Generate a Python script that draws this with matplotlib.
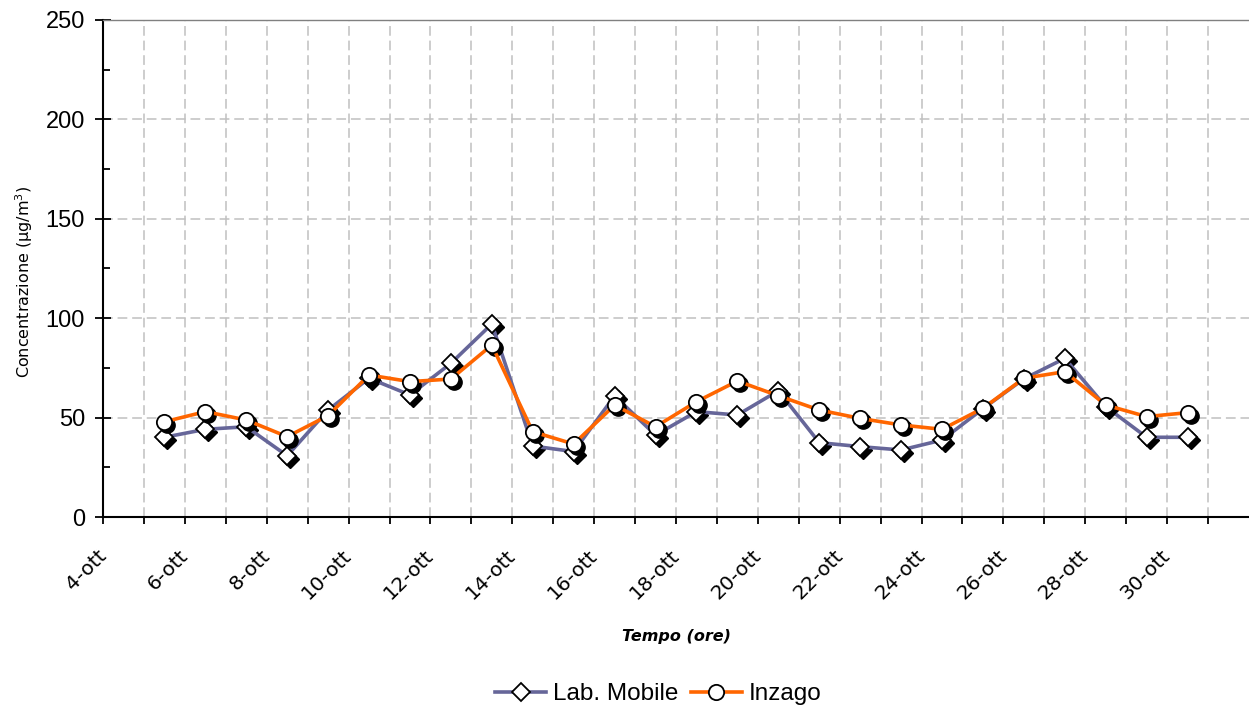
import numpy as np
import matplotlib
matplotlib.use('Agg')
import matplotlib.pyplot as plt
from matplotlib import transforms

plt.rcParams['lines.scale_dashes'] = False

# giorni di ottobre (misure a mezzogiorno)
giorni = np.arange(5, 31)
lab_mobile = [40.1, 44.1, 45.4, 30.8, 53.8, 69.8, 61.4, 77.3, 97.1, 35.7,
              32.9, 60.9, 41.2, 53.0, 51.3, 63.5, 37.4, 35.4, 33.7, 38.7,
              54.5, 69.5, 79.8, 55.5, 40.1, 40.1]
inzago = [47.9, 53.0, 48.8, 40.4, 51.0, 71.4, 68.1, 69.4, 86.5, 42.9,
          36.7, 56.3, 45.4, 58.0, 68.4, 61.0, 53.8, 49.6, 46.3, 44.1,
          54.7, 69.8, 73.1, 56.3, 50.5, 52.5]
tick_giorni = np.arange(4, 32)
tick_labels = ['%d-ott' % d if d % 2 == 0 else '' for d in tick_giorni]

W, H = 1249, 711
fig = plt.figure(figsize=(W / 100, H / 100), dpi=100)
ax = fig.add_axes([103 / W, 1 - 517 / H, 1 - 103 / W, (517 - 20) / H])

x = giorni + 0.5
ombra = transforms.offset_copy(ax.transData, fig=fig, x=3, y=-3, units='dots')

# Lab. Mobile
l1, = ax.plot(x, lab_mobile, color='#666699', lw=2.6, marker='D', ms=9,
              mfc='white', mec='black', mew=1.3, zorder=4, label='Lab. Mobile')
ax.plot(x, lab_mobile, ls='none', marker='D', ms=9, mfc='black', mec='black',
        transform=ombra, zorder=3.5)
# Inzago
l2, = ax.plot(x, inzago, color='#FF6600', lw=2.6, marker='o', ms=11,
              mfc='white', mec='black', mew=1.3, zorder=6, label='Inzago')
ax.plot(x, inzago, ls='none', marker='o', ms=11, mfc='black', mec='black',
        transform=ombra, zorder=5.5)

ax.set_xlim(4, 32)
ax.set_ylim(0, 250)

ax.set_xticks(tick_giorni)
ax.set_xticklabels(tick_labels, rotation=45, ha='right', va='top',
                   fontsize=14.5, family='DejaVu Sans')
ax.tick_params(axis='x', direction='out', length=5, width=1.3, pad=16)
offs = transforms.ScaledTranslation(7 / 100, 0, fig.dpi_scale_trans)
for lbl in ax.get_xticklabels():
    lbl.set_transform(lbl.get_transform() + offs)

ax.set_yticks(np.arange(0, 251, 50))
ax.set_yticks(np.arange(25, 250, 50), minor=True)
ax.set_yticklabels([str(v) for v in range(0, 251, 50)], fontsize=17,
                   family='Liberation Sans')
ax.tick_params(axis='y', which='major', direction='inout', length=11, width=1.3, pad=7.5)
ax.tick_params(axis='y', which='minor', direction='in', length=5, width=1.3)

ax.set_axisbelow(True)
ax.grid(True, which='major', color='#c0c0c0', lw=1.1, dashes=(7, 3.5))

ax.spines['right'].set_visible(False)
ax.spines['top'].set_color('#808080')
ax.spines['top'].set_linewidth(1)
ax.spines['left'].set_linewidth(1.5)
ax.spines['bottom'].set_linewidth(1.5)

fig.text(24 / W, 1 - 282 / H, 'Concentrazione (µg/m$^3$)', rotation=90,
         ha='center', va='center', fontsize=11.5, family='DejaVu Sans')
fig.text(676 / W, 1 - 637 / H, 'Tempo (ore)', ha='center', va='center',
         fontsize=11.5, style='italic', weight='bold', family='DejaVu Sans')

fig.legend([l1, l2], ['Lab. Mobile', 'Inzago'], loc='center',
           bbox_to_anchor=(658.5 / W, 1 - 694 / H), ncol=2, frameon=False,
           prop={'family': 'Liberation Sans', 'size': 17.5}, handlelength=2.1,
           handletextpad=0.3, columnspacing=0.5, numpoints=1)

fig.savefig('out.png', dpi=100)
